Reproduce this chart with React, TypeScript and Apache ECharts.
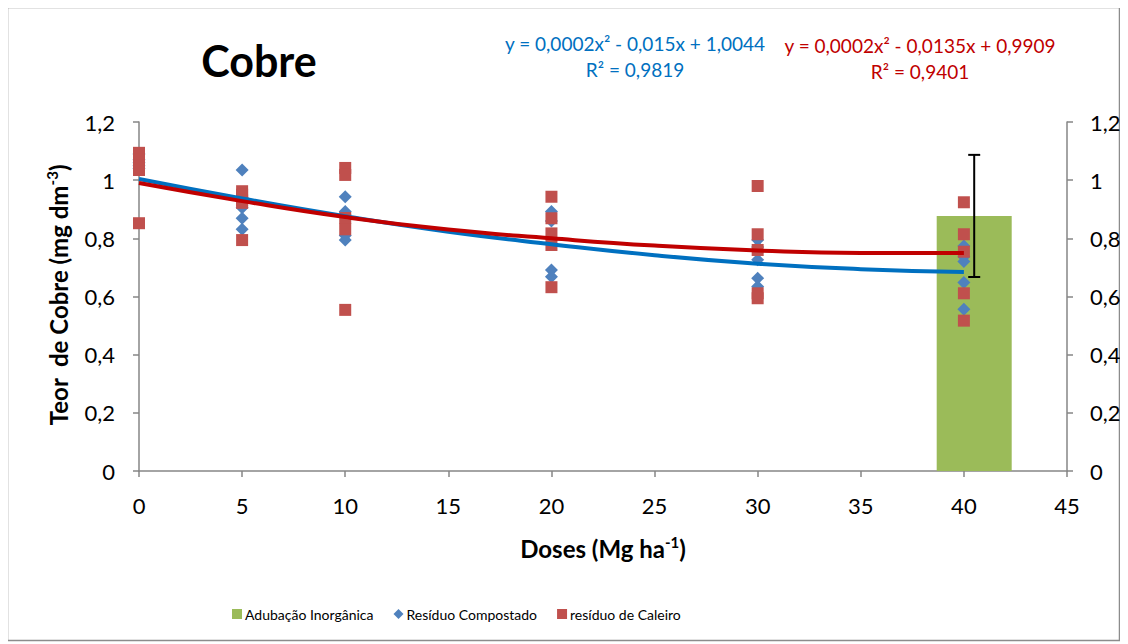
import React, { useEffect, useRef } from "react";
import * as echarts from "echarts";

const doses = [0, 5, 10, 20, 30, 40];
const compostado = [
  [1.09, 1.07, 1.06, 1.05, 1.04],
  [1.035, 0.94, 0.905, 0.869, 0.831],
  [0.943, 0.892, 0.88, 0.81, 0.794],
  [0.892, 0.86, 0.8, 0.691, 0.668],
  [0.794, 0.77, 0.726, 0.663, 0.634],
  [0.774, 0.737, 0.72, 0.648, 0.556],
];
const caleiro = [
  [1.094, 1.07, 1.049, 1.035, 0.852],
  [0.962, 0.95, 0.93, 0.922, 0.794],
  [1.042, 1.018, 0.87, 0.831, 0.554],
  [0.943, 0.869, 0.817, 0.777, 0.632],
  [0.98, 0.814, 0.76, 0.611, 0.594],
  [0.924, 0.814, 0.754, 0.611, 0.517],
];
const trendX = [0, 5, 10, 15, 20, 25, 30, 35, 40];
const trendCompostado = [1.004, 0.937, 0.876, 0.823, 0.78, 0.742, 0.713, 0.694, 0.684];
const trendCaleiro = [0.99, 0.928, 0.873, 0.83, 0.8, 0.775, 0.758, 0.75, 0.75];
const barCategories = ["", "", "", "", "Inorgânica"];
const barValues = [null, null, null, null, 0.877];
const barErrors = [null, null, null, null, 0.21];
const xTicks = { min: 0, max: 45, interval: 5 };
const yTicks = { min: 0, max: 1.2, interval: 0.2 };

const FONT = "Lato, 'Open Sans', sans-serif";

function toPoints(groups: number[][]) {
  const pts: number[][] = [];
  groups.forEach((vals, i) => vals.forEach((v) => pts.push([doses[i], v])));
  return pts;
}

const fmt = (v: number) => String(Math.round(v * 10) / 10).replace(".", ",");

export default function App() {
  const ref = useRef<HTMLDivElement>(null);
  useEffect(() => {
    if (!ref.current) return;
    const chart = echarts.init(ref.current, null, { renderer: "svg" });
    const axisLine = { show: true, lineStyle: { color: "#868686", width: 1.5 } };
    const axisTick = { show: true, inside: false, length: 6, lineStyle: { color: "#868686", width: 1.5 } };
    const labelStyle = { color: "#000", fontSize: 22, fontFamily: FONT };
    const errData = barValues
      .map((v, i) => (v == null ? null : [i, v, barErrors[i]]))
      .filter((d) => d != null);
    const rich = {
      b: { fontFamily: FONT, fontWeight: "bold", fontSize: 24, fill: "#000", lineHeight: 28 },
      s: { fontFamily: FONT, fontWeight: "bold", fontSize: 15, fill: "#000", verticalAlign: "top", lineHeight: 28 },
    };

    chart.setOption({
      animation: false,
      textStyle: { fontFamily: FONT },
      grid: { left: 131, top: 114, width: 928, height: 349, containLabel: false },
      xAxis: [
        {
          type: "value",
          min: xTicks.min,
          max: xTicks.max,
          interval: xTicks.interval,
          axisLine,
          axisTick,
          splitLine: { show: false },
          axisLabel: { ...labelStyle, margin: 23 },
        },
        {
          type: "category",
          data: barCategories,
          show: false,
          position: "top",
          boundaryGap: true,
        },
      ],
      yAxis: [
        {
          type: "value",
          min: yTicks.min,
          max: yTicks.max,
          interval: yTicks.interval,
          axisLine,
          axisTick,
          splitLine: { show: false },
          axisLabel: { ...labelStyle, margin: 24, formatter: fmt },
        },
        {
          type: "value",
          position: "right",
          min: yTicks.min,
          max: yTicks.max,
          interval: yTicks.interval,
          axisLine,
          axisTick,
          splitLine: { show: false },
          axisLabel: { ...labelStyle, margin: 23, formatter: fmt },
        },
      ],
      legend: {
        left: 224,
        top: 599,
        padding: 0,
        itemGap: 20,
        itemWidth: 10,
        itemHeight: 10,
        textStyle: { fontSize: 14, color: "#000", fontFamily: FONT, padding: [0, 0, 0, -2] },
        data: [
          { name: "Adubação Inorgânica", icon: "rect" },
          { name: "Resíduo Compostado" },
          { name: "resíduo de Caleiro", icon: "rect" },
        ],
      },
      series: [
        {
          name: "Adubação Inorgânica",
          type: "bar",
          xAxisIndex: 1,
          yAxisIndex: 0,
          data: barValues,
          barWidth: 75,
          itemStyle: { color: "#9BBB59" },
          z: 1,
        },
        {
          name: "Resíduo Compostado",
          type: "scatter",
          symbol: "diamond",
          symbolSize: 13,
          data: toPoints(compostado),
          itemStyle: { color: "#4F81BD", opacity: 1 },
          z: 2,
        },
        {
          name: "resíduo de Caleiro",
          type: "scatter",
          symbol: "rect",
          symbolSize: 12,
          data: toPoints(caleiro),
          itemStyle: { color: "#C0504D", opacity: 1 },
          z: 3,
        },
        {
          name: "trendCompostado",
          type: "line",
          smooth: true,
          symbol: "none",
          data: trendX.map((x, i) => [x, trendCompostado[i]]),
          lineStyle: { color: "#0070C0", width: 4 },
          z: 4,
        },
        {
          name: "trendCaleiro",
          type: "line",
          smooth: true,
          symbol: "none",
          data: trendX.map((x, i) => [x, trendCaleiro[i]]),
          lineStyle: { color: "#C00000", width: 4 },
          z: 5,
        },
        {
          name: "erro",
          type: "custom",
          xAxisIndex: 1,
          yAxisIndex: 0,
          data: errData,
          z: 6,
          renderItem: (params: any, api: any) => {
            const c = api.value(0);
            const v = api.value(1);
            const e = api.value(2);
            const top = api.coord([c, v + e]);
            const bot = api.coord([c, v - e]);
            const style = { stroke: "#000", lineWidth: 2 };
            return {
              type: "group",
              children: [
                { type: "line", shape: { x1: top[0], y1: top[1], x2: bot[0], y2: bot[1] }, style },
                { type: "line", shape: { x1: top[0] - 6, y1: top[1], x2: top[0] + 6, y2: top[1] }, style },
                { type: "line", shape: { x1: bot[0] - 6, y1: bot[1], x2: bot[0] + 6, y2: bot[1] }, style },
              ],
            };
          },
        },
      ],
      graphic: [
        {
          type: "rect",
          shape: { x: -0.5, y: -0.5, width: 1112, height: 633 },
          style: { fill: "none", stroke: "#8c8c8c", lineWidth: 1.5 },
          z: -10,
          silent: true,
        },
        {
          type: "text",
          x: 251,
          y: 52,
          style: { text: "Cobre", font: `bold 43px ${FONT}`, fill: "#000", align: "center", verticalAlign: "middle" },
        },
        {
          type: "text",
          x: 627,
          y: 35,
          style: { text: "y = 0,0002x² - 0,015x + 1,0044", font: `19px ${FONT}`, fill: "#0070C0", align: "center", verticalAlign: "middle" },
        },
        {
          type: "text",
          x: 627,
          y: 61,
          style: { text: "R² = 0,9819", font: `19px ${FONT}`, fill: "#0070C0", align: "center", verticalAlign: "middle" },
        },
        {
          type: "text",
          x: 912,
          y: 37,
          style: { text: "y = 0,0002x² - 0,0135x + 0,9909", font: `19px ${FONT}`, fill: "#C00000", align: "center", verticalAlign: "middle" },
        },
        {
          type: "text",
          x: 912,
          y: 63,
          style: { text: "R² = 0,9401", font: `19px ${FONT}`, fill: "#C00000", align: "center", verticalAlign: "middle" },
        },
        {
          type: "text",
          x: 50,
          y: 287,
          rotation: Math.PI / 2,
          style: {
            text: "{b|Teor  de Cobre (mg dm}{s|-3}{b|)}",
            align: "center",
            verticalAlign: "middle",
            fill: "#000",
            rich,
          },
        },
        {
          type: "text",
          x: 595,
          y: 540,
          style: {
            text: "{b|Doses (Mg ha}{s|-1}{b|)}",
            align: "center",
            verticalAlign: "middle",
            fill: "#000",
            rich,
          },
        },
      ],
    });
    return () => chart.dispose();
  }, []);
  return <div ref={ref} style={{ width: 1120, height: 636 }} />;
}
